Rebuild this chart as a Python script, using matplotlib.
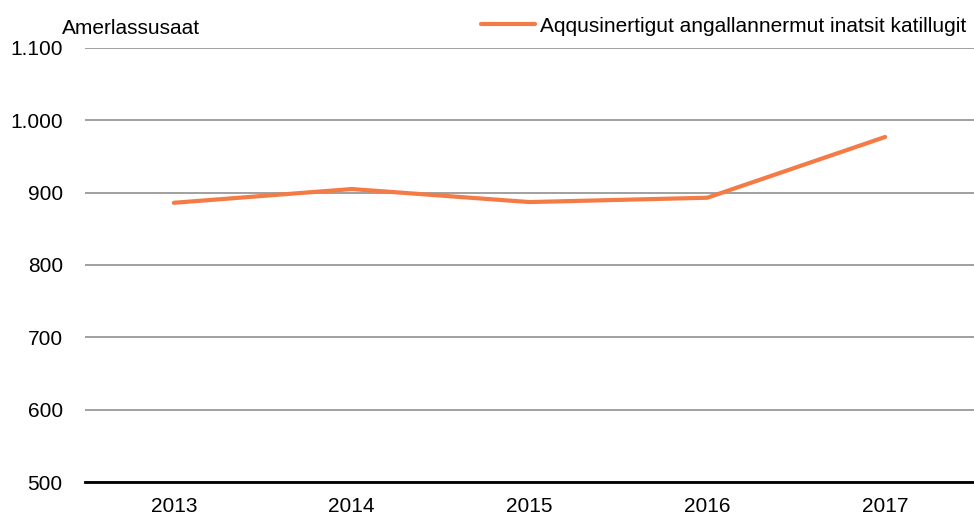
import matplotlib.pyplot as plt
from matplotlib.ticker import FuncFormatter

plt.rcParams['font.family'] = ['Liberation Sans', 'DejaVu Sans']

years = ['2013', '2014', '2015', '2016', '2017']
values = [886, 905, 887, 893, 977]
series_name = 'Aqqusinertigut angallannermut inatsit katillugit'
y_label = 'Amerlassusaat'

fs = 15

fig = plt.figure(figsize=(9.74, 5.15), dpi=100)
ax = fig.add_axes([85 / 974, 33 / 515, 889 / 974, 434 / 515])

x = list(range(len(years)))
line, = ax.plot(x, values, color='#f47a46', linewidth=3, solid_capstyle='round')

ax.set_xlim(-0.5, len(years) - 0.5)
ax.set_ylim(500, 1100)
ax.set_yticks(range(500, 1101, 100))
ax.yaxis.set_major_formatter(FuncFormatter(lambda v, p: f'{int(v):,}'.replace(',', '.')))
ax.set_xticks(x)
ax.set_xticklabels(years)

ax.grid(axis='y', color='#999999', linewidth=1.3)
ax.set_axisbelow(True)
for s in ['top', 'right', 'left']:
    ax.spines[s].set_visible(False)
ax.spines['bottom'].set_color('black')
ax.spines['bottom'].set_linewidth(2)
ax.tick_params(axis='both', length=0, labelsize=fs, colors='black')
ax.tick_params(axis='y', pad=16)
ax.tick_params(axis='x', pad=11)

fig.text(62 / 974, 1 - 28 / 515, y_label, fontsize=fs, va='center', ha='left')

fig.legend([line], [series_name], loc='center right', bbox_to_anchor=(966 / 974, 1 - 26 / 515),
           frameon=False, fontsize=fs, handlelength=2.55, handletextpad=0.25,
           borderaxespad=0, borderpad=0)

fig.savefig('out.png', dpi=100)
